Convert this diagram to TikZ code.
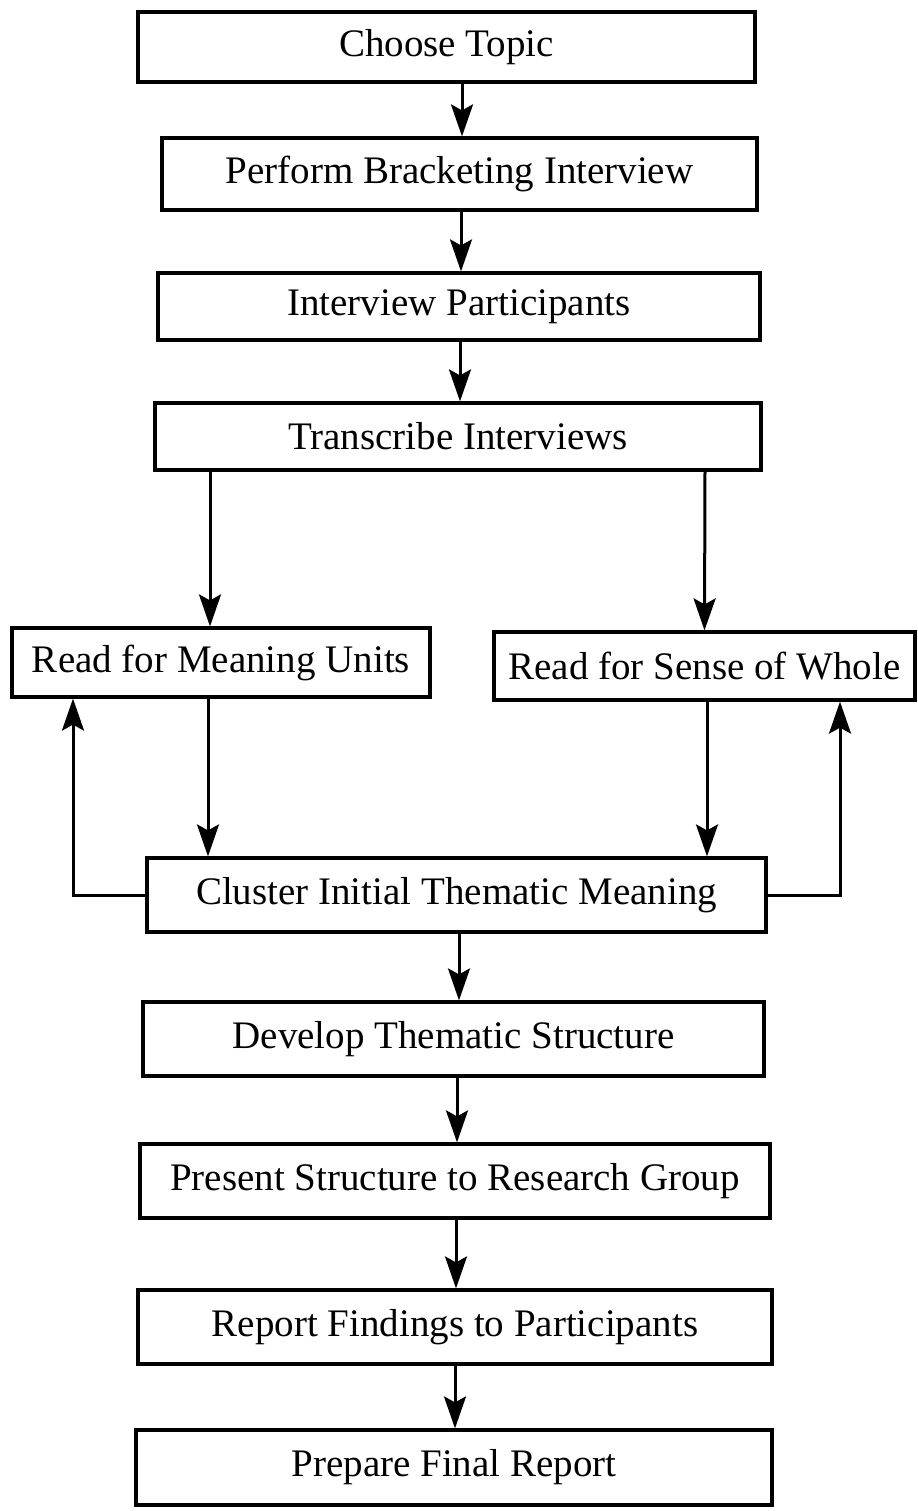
\documentclass[tikz,border=0pt]{standalone}
\usepackage{fontspec}
\setmainfont{Liberation Serif}
\usetikzlibrary{arrows.meta}
\begin{document}
\begin{tikzpicture}[x=0.5pt,y=-0.5pt,
  box/.style 2 args={draw, line width=1.6pt, inner sep=0pt, minimum width=#1, minimum height=#2,
    font=\fontsize{19.5}{23}\selectfont},
  arr/.style={line width=1.5pt, -{Stealth[length=16pt,width=11pt,inset=3pt]}}]
\useasboundingbox (0,0) rectangle (917,1511);
\node[box={308.5pt}{35pt}] (choose) at (446.5,47) {Choose Topic};
\node[box={297.5pt}{36pt}] (perform) at (459.5,174) {Perform Bracketing Interview};
\node[box={301pt}{33.5pt}] (interview) at (459,306.5) {Interview Participants};
\node[box={303pt}{33.5pt}] (transcribe) at (458,436.5) {Transcribe Interviews};
\node[box={209pt}{34.5pt}] (meaning) at (221,662.5) {Read for Meaning Units};
\node[box={210.5pt}{34pt}] (sense) at (704.5,666) {Read for Sense of Whole};
\node[box={309.5pt}{37pt}] (cluster) at (456.5,895) {Cluster Initial Thematic Meaning};
\node[box={310.5pt}{37pt}] (develop) at (453.5,1039) {Develop Thematic Structure};
\node[box={315pt}{37pt}] (present) at (455,1181) {Present Structure to Research Group};
\node[box={317pt}{37pt}] (report) at (455,1327) {Report Findings to Participants};
\node[box={318pt}{37.5pt}] (prepare) at (454,1467.5) {Prepare Final Report};

\draw[arr] ([xshift=7.75pt]choose.south) -- ([xshift=1.25pt]perform.north);
\draw[arr] ([xshift=0.75pt]perform.south) -- ([xshift=1pt]interview.north);
\draw[arr] ([xshift=0.5pt]interview.south) -- ([xshift=1pt]transcribe.north);
\draw[arr] ([xshift=-124pt]transcribe.south) -- ([xshift=-5.5pt]meaning.north);
\draw[arr] ([xshift=123.5pt]transcribe.south) -- (sense.north);
\draw[arr] ([xshift=-6.5pt]meaning.south) -- ([xshift=-124.25pt]cluster.north);
\draw[arr] ([xshift=1.25pt]sense.south) -- ([xshift=125.25pt]cluster.north);
\draw[arr] (cluster.west) -| ([xshift=-74pt]meaning.south);
\draw[arr] (cluster.east) -| ([xshift=67.75pt]sense.south);
\draw[arr] ([xshift=1.25pt]cluster.south) -- ([xshift=2.75pt]develop.north);
\draw[arr] ([xshift=1.75pt]develop.south) -- ([xshift=1pt]present.north);
\draw[arr] ([xshift=0.5pt]present.south) -- ([xshift=0.5pt]report.north);
\draw[arr] (report.south) -- ([xshift=0.5pt]prepare.north);
\end{tikzpicture}
\end{document}
